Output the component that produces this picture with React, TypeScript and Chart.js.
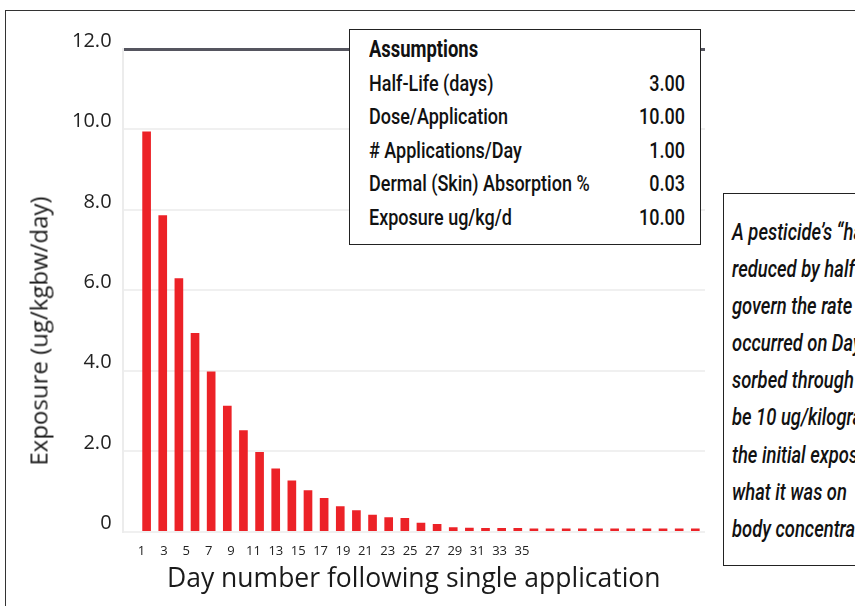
import React, { useEffect, useRef } from "react";
import { Chart, registerables } from "chart.js";

Chart.register(...registerables);

const days = [1, 2, 3, 4, 5, 6, 7, 8, 9, 10, 11, 12, 13, 14, 15, 16, 17, 18, 19, 20, 21, 22, 23, 24, 25, 26, 27, 28, 29, 30, 31, 32, 33, 34, 35];
const exposure = [9.94, 7.86, 6.29, 4.93, 3.97, 3.12, 2.51, 1.97, 1.56, 1.26, 1.02, 0.83, 0.62, 0.52, 0.41, 0.35, 0.33, 0.21, 0.18, 0.1, 0.09, 0.08, 0.08, 0.08, 0.07, 0.07, 0.07, 0.07, 0.07, 0.07, 0.07, 0.07, 0.07, 0.07, 0.07];
const yTickValues = [0, 2, 4, 6, 8, 10, 12];
const xTickLabels = [1, 3, 5, 7, 9, 11, 13, 15, 17, 19, 21, 23, 25, 27, 29, 31, 33, 35];
const yTitle = "Exposure (ug/kgbw/day)";
const xTitle = "Day number following single application";
const assumptionsTitle = "Assumptions";
const assumptionLabels = ["Half-Life (days)", "Dose/Application", "# Applications/Day", "Dermal (Skin) Absorption %", "Exposure ug/kg/d"];
const assumptionValues = ["3.00", "10.00", "1.00", "0.03", "10.00"];
const noteLines = [
  "A pesticide\u2019s \u201chalf-life\u201d",
  "reduced by half",
  "govern the rate",
  "occurred on Day",
  "sorbed through the",
  "be 10 ug/kilogram",
  "the initial exposure",
  "what it was on",
  "body concentration",
];

const boxFont = "Roboto, 'Liberation Sans', sans-serif";
const mainFont = "'Open Sans', Lato, sans-serif";
const squeeze = 0.8;

export default function App() {
  const ref = useRef<HTMLCanvasElement>(null);

  useEffect(() => {
    const chart = new Chart(ref.current as HTMLCanvasElement, {
      type: "bar",
      data: {
        datasets: [
          {
            data: days.map((d, i) => ({ x: d, y: exposure[i] })),
            backgroundColor: "#ec2227",
            barThickness: 8,
            xAxisID: "x",
            yAxisID: "y",
          },
        ],
      },
      options: {
        animation: false,
        responsive: false,
        plugins: { legend: { display: false }, tooltip: { enabled: false } },
        layout: { padding: { left: 61, right: 150, top: 49, bottom: 11 } },
        scales: {
          x: { type: "linear", min: -0.49, max: 35.6, offset: false, display: false },
          x2: {
            type: "linear",
            position: "bottom",
            offset: false,
            min: -0.7,
            max: 51.36,
            afterBuildTicks: (axis: any) => {
              axis.ticks = xTickLabels.map((v) => ({ value: v }));
            },
            ticks: {
              autoSkip: false,
              maxRotation: 0,
              font: { family: mainFont, size: 13 },
              color: "#222",
              padding: 4,
              callback: (v: any) => String(v),
            },
            grid: { display: false },
            border: { display: false },
            title: {
              display: true,
              text: xTitle,
              font: { family: mainFont, size: 26.5 },
              color: "#1a1a1a",
              padding: { top: 0, bottom: 0 },
            },
          },
          y: {
            min: 0,
            max: 12,
            afterBuildTicks: (axis: any) => {
              axis.ticks = yTickValues.map((v) => ({ value: v }));
            },
            ticks: {
              callback: (v: any) => (Number(v) === 0 ? "0" : Number(v).toFixed(1)),
              font: { family: mainFont, size: 20 },
              color: "#222",
              padding: 11,
              labelOffset: -8,
            },
            grid: {
              drawTicks: false,
              color: (ctx: any) => (ctx.tick && ctx.tick.value === 12 ? "#55555f" : "#f0f0f0"),
              lineWidth: (ctx: any) => (ctx.tick && ctx.tick.value === 12 ? 3 : 2),
            },
            border: { display: true, color: "#ececec", width: 2 },
          },
        },
      },
    } as any);
    return () => chart.destroy();
  }, []);

  return (
    <div style={{ position: "fixed", left: 0, top: 0, width: 855, height: 606, overflow: "hidden", background: "#fff" }}>
      <div style={{ position: "absolute", left: 5, top: 10, width: 1000, height: 1000, border: "1.5px solid #333", boxSizing: "border-box" }} />
      <canvas ref={ref} width={855} height={606} style={{ position: "absolute", left: 0, top: 0, width: 855, height: 606 }} />
      <div
        style={{
          position: "absolute",
          left: 38,
          top: 331,
          transform: "translate(-50%, -50%) rotate(-90deg)",
          fontFamily: mainFont,
          fontSize: 24,
          color: "#1a1a1a",
          whiteSpace: "nowrap",
        }}
      >
        {yTitle}
      </div>
      <div
        style={{
          position: "absolute",
          left: 349,
          top: 29,
          width: 352,
          height: 216,
          boxSizing: "border-box",
          border: "1.5px solid #222",
          background: "#fff",
          overflow: "hidden",
        }}
      >
        <div
          style={{
            position: "absolute",
            left: 18.5,
            top: 3,
            width: (352 - 3 - 18.5 - 14.5) / squeeze,
            transform: `scaleX(${squeeze})`,
            transformOrigin: "left top",
            fontFamily: boxFont,
            fontWeight: 500,
            fontSize: 22.5,
            lineHeight: "33.5px",
            color: "#111",
          }}
        >
          <div style={{ fontWeight: 700, fontSize: 23 }}>{assumptionsTitle}</div>
          {assumptionLabels.map((l, i) => (
            <div key={l} style={{ display: "flex", justifyContent: "space-between" }}>
              <span>{l}</span>
              <span>{assumptionValues[i]}</span>
            </div>
          ))}
        </div>
      </div>
      <div
        style={{
          position: "absolute",
          left: 723,
          top: 193,
          width: 300,
          height: 373,
          boxSizing: "border-box",
          border: "1.5px solid #222",
          background: "#fff",
          overflow: "hidden",
        }}
      >
        <div
          style={{
            position: "absolute",
            left: 7.5,
            top: 20,
            transform: `scaleX(${squeeze})`,
            transformOrigin: "left top",
            fontFamily: boxFont,
            fontWeight: 500,
            fontStyle: "italic",
            fontSize: 23,
            lineHeight: "37.1px",
            color: "#111",
            whiteSpace: "nowrap",
          }}
        >
          {noteLines.map((l) => (
            <div key={l}>{l}</div>
          ))}
        </div>
      </div>
    </div>
  );
}
